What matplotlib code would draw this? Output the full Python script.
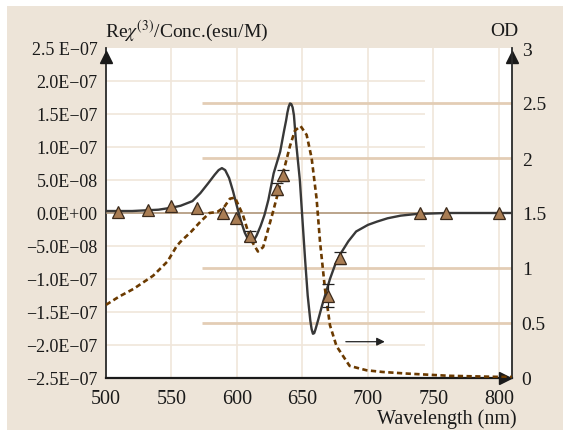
import numpy as np
import matplotlib
matplotlib.use("Agg")
import matplotlib.pyplot as plt
from matplotlib.patches import Rectangle

plt.rcParams.update({
    "font.family": ["Liberation Serif", "DejaVu Serif"],
    "mathtext.fontset": "stix",
    "font.size": 14,
})

# Re chi(3)/conc curve (solid, left axis, units of 1e-8 esu/M)
chi_nm = [500, 520, 540, 550, 557, 566, 572, 578, 583, 586, 588.5, 591, 594, 597, 600,
          603, 606, 608, 610, 611.5, 613, 615, 618, 621, 624, 628, 633, 636, 637.5,
          638.5, 639.5, 640.5, 641.5, 642.5, 643.5, 645, 646.5, 648, 650, 652, 654, 656,
          657, 658, 659, 660, 662, 665, 668, 671, 675, 679, 685, 691, 700, 707, 715, 725,
          737, 760, 800, 810]
chi_val = [0.3, 0.3, 0.5, 0.8, 1.1, 1.8, 3.0, 4.5, 5.8, 6.5, 6.8, 6.5, 5.3, 3.3, 1.0,
           -1.2, -3.0, -3.8, -4.2, -4.3, -4.1, -3.4, -2.0, -0.3, 2.0, 6.0, 9.3, 12.5, 14.0,
           15.2, 16.1, 16.6, 16.5, 16.0, 14.8, 11.0, 8.0, 5.0, -1.0, -7.0, -12.5, -16.3,
           -17.6, -18.3, -18.2, -17.6, -16.2, -14.0, -12.0, -10.0, -7.8, -6.2, -4.3, -2.8,
           -1.8, -1.3, -0.8, -0.4, -0.15, 0.0, 0.0, 0.0]

# absorbance spectrum (dashed, right axis)
od_nm = [500, 510, 521, 536, 547, 554, 557, 565, 572, 579, 585, 590, 594.6, 598.5,
         604.6, 610, 616, 620, 627.5, 632.8, 640.5, 644.3, 648.6, 653.2, 657, 660.8,
         663.4, 667.2, 671, 676, 686, 699, 711, 730, 762, 800, 810]
od_val = [0.665, 0.74, 0.81, 0.93, 1.06, 1.20, 1.24, 1.33, 1.42, 1.50, 1.51, 1.55, 1.63,
          1.64, 1.48, 1.27, 1.15, 1.19, 1.51, 1.75, 2.11, 2.25, 2.29, 2.21, 2.00, 1.63,
          1.24, 0.81, 0.48, 0.29, 0.11, 0.07, 0.055, 0.04, 0.02, 0.01, 0.01]

# measured points with error bars (units of 1e-8)
pt_nm = [509, 531.8, 549.6, 569.2, 589, 599, 610, 630.3, 635, 669.5, 679, 739.7, 759.5, 800]
pt_val = [0.2, 0.5, 1.1, 0.8, 0.0, -0.7, -3.5, 3.6, 5.7, -12.5, -6.8, 0.0, 0.0, 0.0]
pt_err = [0, 0, 0, 0, 0, 0, 0.8, 0.9, 0.8, 1.8, 0.9, 0, 0, 0]

left_ticks = np.arange(-2.5e-7, 2.51e-7, 5e-8)
left_labels = ["\u22122.5E\u221207", "\u22122.0E\u221207", "\u22121.5E\u221207",
               "\u22121.0E\u221207", "\u22125.0E\u221208", "0.0E+00", "5.0E\u221208",
               "1.0E\u221207", "1.5E\u221207", "2.0E\u221207", "2.5 E\u221207"]
right_ticks = [0, 0.5, 1, 1.5, 2, 2.5, 3]
right_labels = ["0", "0.5", "1", "1.5", "2", "2.5", "3"]
x_ticks = [500, 550, 600, 650, 700, 750, 800]

BEIGE = "#ede4d8"
GRID = "#f0e6da"
THICK = "#e3cdb5"

fig = plt.figure(figsize=(5.63, 4.31), dpi=100, facecolor="white")
fig.patches.append(Rectangle((7 / 563, 0), 1, 1 - 7 / 431, transform=fig.transFigure,
                             facecolor=BEIGE, edgecolor="none", zorder=-10))

ax = fig.add_axes([106 / 563, 1 - 379 / 431, 406 / 563, 330 / 431])
ax.set_facecolor("white")
ax.set_xlim(500, 810)
ax.set_ylim(-2.5e-7, 2.5e-7)
ax2 = ax.twinx()
ax2.set_ylim(0, 3)

# left-axis value -> right-axis position (ax2 is drawn on top)
to_od = lambda v: np.asarray(v) * 6e6 + 1.5

# grid decorations
for xv in x_ticks[1:]:
    ax.axvline(xv, color=GRID, lw=1.2, zorder=0)
for yv in left_ticks[1:-1]:
    if abs(yv) > 1e-12:
        ax.hlines(yv, 500, 743.5, color=GRID, lw=1.2, zorder=0)
for yv in [0.5, 1, 2, 2.5]:
    ax2.hlines(yv, 573.3, 810, color=THICK, lw=2.0, zorder=1)
ax2.axhline(1.5, color="#a88c6c", lw=1.1, zorder=1)

# curves
ax2.plot(chi_nm, to_od(np.array(chi_val) * 1e-8), color="#383838", lw=1.7, zorder=3)
ax2.plot(od_nm, od_val, color="#6b3a00", lw=1.9, dashes=(2.0, 1.3), zorder=3)

pn = np.array(pt_nm)
pv = np.array(pt_val) * 1e-8
pe = np.array(pt_err) * 1e-8
m = pe > 0
ax2.errorbar(pn[m], to_od(pv[m]), yerr=pe[m] * 6e6, fmt="none",
             ecolor="#222222", elinewidth=0.9, capsize=4.5, capthick=0.9, zorder=4)
ax2.plot(pn, to_od(pv), ls="none", marker="^", ms=8.5,
         mfc="#a97d54", mec="#3b2a1c", mew=0.9, zorder=5)

# arrow pointing to right axis
ax2.annotate("", xy=(715, 0.33), xytext=(681, 0.33),
             arrowprops=dict(arrowstyle="-|>", color="#222222", lw=0.9,
                             mutation_scale=12), zorder=6)

# axes styling
for a in (ax, ax2):
    a.spines["top"].set_visible(False)
ax.spines["right"].set_visible(False)
ax2.spines["left"].set_visible(False)
ax2.spines["bottom"].set_visible(False)
ax.spines["left"].set_color("#2a2a2a")
ax.spines["left"].set_linewidth(1.3)
ax.spines["bottom"].set_color("#1a1a1a")
ax.spines["bottom"].set_linewidth(1.6)
ax2.spines["right"].set_color("#2a2a2a")
ax2.spines["right"].set_linewidth(1.3)

ax.set_xticks(x_ticks)
ax.set_xticklabels([str(v) for v in x_ticks])
ax.set_yticks(left_ticks)
ax.set_yticklabels(left_labels)
ax2.set_yticks(right_ticks)
ax2.set_yticklabels(right_labels)
ax.tick_params(axis="x", length=0, pad=8, labelsize=14.5, colors="#1a1a1a")
ax.tick_params(axis="y", length=0, pad=6, labelsize=13, colors="#1a1a1a")
ax2.tick_params(axis="y", length=0, pad=7, labelsize=14, colors="#1a1a1a")

# arrow heads on axes
ax.plot([0], [0.973], marker="^", ms=9, color="#1a1a1a", transform=ax.transAxes,
        clip_on=False, zorder=7)
ax.plot([1], [0.973], marker="^", ms=9, color="#1a1a1a", transform=ax.transAxes,
        clip_on=False, zorder=7)
ax.plot([0.983], [0], marker=">", ms=9, color="#1a1a1a", transform=ax.transAxes,
        clip_on=False, zorder=7)

fig.text(105 / 563, 1 - 37 / 431, r"Re$\chi^{(3)}$/Conc.(esu/M)", ha="left",
         va="baseline", fontsize=14, color="#1a1a1a")
fig.text(518 / 563, 1 - 36 / 431, "OD", ha="right", va="baseline", fontsize=14,
         color="#1a1a1a")
fig.text(517 / 563, 1 - 424 / 431, "Wavelength (nm)", ha="right", va="baseline",
         fontsize=14.5, color="#1a1a1a")

fig.savefig("out.png", dpi=100, facecolor="white")
